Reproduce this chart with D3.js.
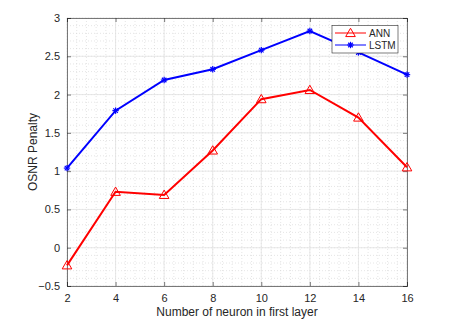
<!DOCTYPE html>
<html>
<head>
<meta charset="utf-8">
<script src="https://cdn.jsdelivr.net/npm/d3@7"></script>
<style>
  body { margin: 0; background: #fff; }
  svg text { font-family: "Liberation Sans", Arial, sans-serif; fill: #262626; }
</style>
</head>
<body>
<svg id="chart" width="454" height="330"></svg>
<script>
// neurons in first layer
var neurons = [2, 4, 6, 8, 10, 12, 14, 16];
var annPenalty = [-0.23, 0.73, 0.69, 1.27, 1.94, 2.06, 1.70, 1.05];
var lstmPenalty = [1.04, 1.79, 2.19, 2.33, 2.58, 2.83, 2.55, 2.26];
var xTicks = [2, 4, 6, 8, 10, 12, 14, 16];
var yTicks = [-0.5, 0, 0.5, 1, 1.5, 2, 2.5, 3];

var svg = d3.select('#chart');
var pLeft = 67, pRight = 407, pTop = 18, pBottom = 286;

var x = d3.scaleLinear().domain([2, 16]).range([pLeft, pRight]);
var y = d3.scaleLinear().domain([-0.5, 3]).range([pBottom, pTop]);

var grid = svg.append('g');
// minor grid
d3.range(2, 16.001, 0.4).forEach(function(v) {
  grid.append('line').attr('x1', x(v)).attr('x2', x(v)).attr('y1', pTop).attr('y2', pBottom)
    .attr('stroke', '#d4d4d4').attr('stroke-width', 0.6).attr('stroke-dasharray', '1,2');
});
d3.range(-0.5, 3.001, 0.1).forEach(function(v) {
  grid.append('line').attr('x1', pLeft).attr('x2', pRight).attr('y1', y(v)).attr('y2', y(v))
    .attr('stroke', '#d4d4d4').attr('stroke-width', 0.6).attr('stroke-dasharray', '1,2');
});
// major grid
xTicks.forEach(function(v) {
  grid.append('line').attr('x1', x(v)).attr('x2', x(v)).attr('y1', pTop).attr('y2', pBottom)
    .attr('stroke', '#e2e2e2').attr('stroke-width', 0.8);
});
yTicks.forEach(function(v) {
  grid.append('line').attr('x1', pLeft).attr('x2', pRight).attr('y1', y(v)).attr('y2', y(v))
    .attr('stroke', '#e2e2e2').attr('stroke-width', 0.8);
});

// axes (box on, ticks inward)
svg.append('g').attr('transform', 'translate(0,' + pBottom + ')')
  .call(d3.axisBottom(x).tickValues(xTicks).tickSize(-4).tickPadding(8))
  .call(g => g.selectAll('text').style('font-size', '11px'));
svg.append('g').attr('transform', 'translate(' + pLeft + ',0)')
  .call(d3.axisLeft(y).tickValues(yTicks).tickSize(-4).tickPadding(7).tickFormat(d3.format('')))
  .call(g => g.selectAll('text').style('font-size', '11px'));
svg.append('g').attr('transform', 'translate(0,' + pTop + ')')
  .call(d3.axisTop(x).tickValues(xTicks).tickSize(-4).tickFormat(''));
svg.append('g').attr('transform', 'translate(' + pRight + ',0)')
  .call(d3.axisRight(y).tickValues(yTicks).tickSize(-4).tickFormat(''));
svg.selectAll('.domain, .tick line').attr('stroke', '#262626').attr('stroke-width', 0.6);

// lines
var line = d3.line().x((d, i) => x(neurons[i])).y(d => y(d));
svg.append('path').datum(annPenalty).attr('d', line)
  .attr('fill', 'none').attr('stroke', '#ff0000').attr('stroke-width', 2);
svg.append('path').datum(lstmPenalty).attr('d', line)
  .attr('fill', 'none').attr('stroke', '#0000ff').attr('stroke-width', 2);

var tri = d3.symbol().type(d3.symbolTriangle).size(40);
function star(g, cx, cy) {
  var r = 3.2;
  [0, 45, 90, 135].forEach(function(a) {
    var rad = a * Math.PI / 180;
    g.append('line').attr('x1', cx - r * Math.cos(rad)).attr('y1', cy - r * Math.sin(rad))
      .attr('x2', cx + r * Math.cos(rad)).attr('y2', cy + r * Math.sin(rad))
      .attr('stroke', '#0000ff').attr('stroke-width', 1.2);
  });
}
svg.selectAll('.ann').data(annPenalty).enter().append('path')
  .attr('d', tri).attr('transform', (d, i) => 'translate(' + x(neurons[i]) + ',' + (y(d) + 0.8) + ')')
  .attr('fill', 'none').attr('stroke', '#ff0000').attr('stroke-width', 1);
var stars = svg.append('g');
lstmPenalty.forEach(function(d, i) { star(stars, x(neurons[i]), y(d)); });

// legend
var lg = svg.append('g');
lg.append('rect').attr('x', 332).attr('y', 25.5).attr('width', 66).attr('height', 27.5)
  .attr('fill', '#fff').attr('stroke', '#262626').attr('stroke-width', 0.6);
lg.append('line').attr('x1', 335).attr('x2', 366).attr('y1', 33).attr('y2', 33)
  .attr('stroke', '#ff0000').attr('stroke-width', 1);
lg.append('path').attr('d', tri).attr('transform', 'translate(350.5,33.8)')
  .attr('fill', 'none').attr('stroke', '#ff0000').attr('stroke-width', 1);
lg.append('text').attr('x', 369).attr('y', 37).style('font-size', '10px').text('ANN');
lg.append('line').attr('x1', 335).attr('x2', 366).attr('y1', 45).attr('y2', 45)
  .attr('stroke', '#0000ff').attr('stroke-width', 1);
star(lg, 350.5, 45);
lg.append('text').attr('x', 369).attr('y', 49).style('font-size', '10px').text('LSTM');

// axis labels
svg.append('text').attr('x', (pLeft + pRight) / 2).attr('y', 316).attr('text-anchor', 'middle')
  .style('font-size', '12px').text('Number of neuron in first layer');
svg.append('text').attr('transform', 'translate(37,' + (pTop + pBottom) / 2 + ') rotate(-90)')
  .attr('text-anchor', 'middle').style('font-size', '12px').text('OSNR Penalty');
</script>
</body>
</html>
